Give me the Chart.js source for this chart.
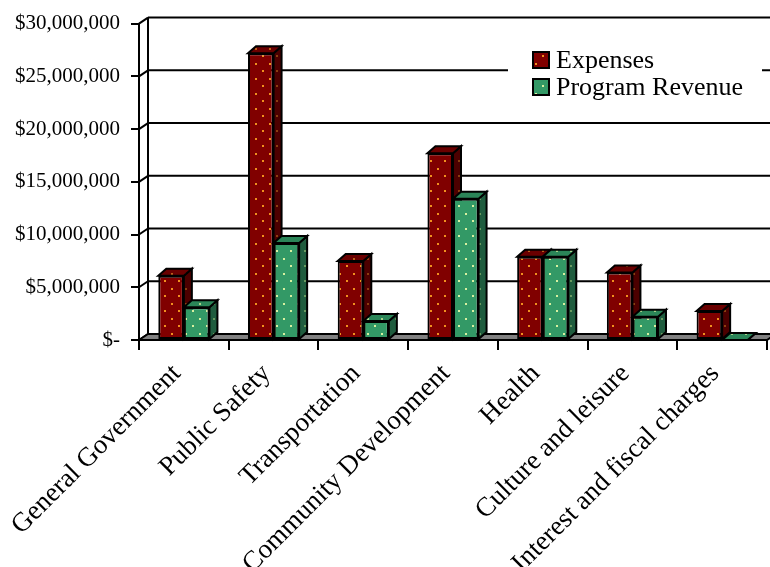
<!DOCTYPE html>
<html>
<head>
<meta charset="utf-8">
<script src="https://cdn.jsdelivr.net/npm/chart.js@4.4.1/dist/chart.umd.min.js"></script>
<style>
  html, body { margin: 0; padding: 0; background: #fff; }
  canvas { display: block; }
</style>
</head>
<body>
<canvas id="myChart" width="770" height="567"></canvas>
<script>
var categories = [
  "General Government",
  "Public Safety",
  "Transportation",
  "Community Development",
  "Health",
  "Culture and leisure",
  "Interest and fiscal charges",
];
var expenses = [6100000, 27200000, 7500000, 17700000, 7900000, 6400000, 2750000];
var programRevenue = [3100000, 9200000, 1800000, 13400000, 7900000, 2200000, 0];
var yTickLabels = [
  "$-",
  "$5,000,000",
  "$10,000,000",
  "$15,000,000",
  "$20,000,000",
  "$25,000,000",
  "$30,000,000",
];

// oblique depth of the bars and of the walls
var barDX = 8, barDY = 7;
var wallDX = 9, wallDY = 6;

function dotPattern(bg, dot) {
  var c = document.createElement("canvas");
  c.width = 14;
  c.height = 15;
  var x = c.getContext("2d");
  x.fillStyle = bg;
  x.fillRect(0, 0, 14, 15);
  x.fillStyle = dot;
  x.fillRect(3, 3, 2, 2);
  x.fillRect(10, 10, 2, 2);
  return x.createPattern(c, "repeat");
}

var redFront = dotPattern("#800000", "#f0901e");
var redTop = dotPattern("#6a0000", "#b8601a");
var redSide = dotPattern("#4c0000", "#8a4010");
var greenFront = dotPattern("#339966", "#d8f0a0");
var greenTop = dotPattern("#2b8558", "#a8d088");
var greenSide = dotPattern("#1f5c3e", "#6a9a60");

var threeD = {
  id: "threeD",
  beforeDatasetsDraw: function (chart) {
    var ctx = chart.ctx;
    var area = chart.chartArea;
    var y = chart.scales.y;
    ctx.save();
    ctx.lineWidth = 2;
    ctx.strokeStyle = "#000";

    // back wall gridlines and left wall diagonals
    y.ticks.forEach(function (t) {
      var py = y.getPixelForValue(t.value);
      ctx.beginPath();
      ctx.moveTo(area.left + wallDX, py - wallDY);
      ctx.lineTo(chart.width + 10, py - wallDY);
      ctx.stroke();
      ctx.beginPath();
      ctx.moveTo(area.left, py);
      ctx.lineTo(area.left + wallDX, py - wallDY);
      ctx.stroke();
    });
    ctx.beginPath();
    ctx.moveTo(area.left + wallDX, area.top - wallDY);
    ctx.lineTo(area.left + wallDX, area.bottom - wallDY);
    ctx.stroke();

    // floor
    ctx.fillStyle = "#808080";
    ctx.beginPath();
    ctx.moveTo(area.left, area.bottom);
    ctx.lineTo(area.left + wallDX, area.bottom - wallDY);
    ctx.lineTo(area.right + wallDX, area.bottom - wallDY);
    ctx.lineTo(area.right, area.bottom);
    ctx.closePath();
    ctx.fill();
    ctx.stroke();

    // side and top faces of the bars, the library draws the fronts after
    chart.data.datasets.forEach(function (ds, i) {
      var meta = chart.getDatasetMeta(i);
      meta.data.forEach(function (bar) {
        var p = bar.getProps(["x", "y", "base", "width"], true);
        var l = p.x - p.width / 2;
        var r = p.x + p.width / 2;
        ctx.fillStyle = ds.sideColor;
        ctx.beginPath();
        ctx.moveTo(r, p.y);
        ctx.lineTo(r + barDX, p.y - barDY);
        ctx.lineTo(r + barDX, p.base - barDY);
        ctx.lineTo(r, p.base);
        ctx.closePath();
        ctx.fill();
        ctx.stroke();

        ctx.fillStyle = ds.topColor;
        ctx.beginPath();
        ctx.moveTo(l, p.y);
        ctx.lineTo(l + barDX, p.y - barDY);
        ctx.lineTo(r + barDX, p.y - barDY);
        ctx.lineTo(r, p.y);
        ctx.closePath();
        ctx.fill();
        ctx.stroke();
      });
    });
    ctx.restore();
  },
};

var legendBox = {
  id: "legendBox",
  afterDatasetsDraw: function (chart) {
    var ctx = chart.ctx;
    ctx.save();
    ctx.fillStyle = "#fff";
    ctx.fillRect(508, 42, 254, 62);
    ctx.font = "26px 'Liberation Serif'";
    ctx.textBaseline = "middle";
    ctx.lineWidth = 2;
    ctx.strokeStyle = "#000";
    chart.data.datasets.forEach(function (ds, i) {
      var top = 52 + i * 27;
      ctx.fillStyle = ds.backgroundColor;
      ctx.fillRect(533, top, 16, 16);
      ctx.strokeRect(533, top, 16, 16);
      ctx.fillStyle = "#000";
      ctx.fillText(ds.label, 556, top + 9);
    });
    ctx.restore();
  },
};

Chart.defaults.font.family = "'Liberation Serif', 'Times New Roman', serif";
Chart.defaults.color = "#000";

new Chart("myChart", {
  type: "bar",
  data: {
    labels: categories,
    datasets: [
      {
        label: "Expenses",
        data: expenses,
        backgroundColor: redFront,
        sideColor: redSide,
        topColor: redTop,
        borderColor: "#000",
        borderWidth: 2,
        borderSkipped: false,
      },
      {
        label: "Program Revenue",
        data: programRevenue,
        backgroundColor: greenFront,
        sideColor: greenSide,
        topColor: greenTop,
        borderColor: "#000",
        borderWidth: 2,
        borderSkipped: false,
      },
    ],
  },
  options: {
    responsive: false,
    animation: false,
    devicePixelRatio: 1,
    layout: {
      autoPadding: false,
      padding: { top: 17, right: 3, left: 0, bottom: 0 },
    },
    datasets: { bar: { barPercentage: 1, categoryPercentage: 0.57 } },
    plugins: {
      legend: { display: false },
      tooltip: { enabled: false },
    },
    scales: {
      x: {
        offset: true,
        grid: {
          offset: true,
          drawOnChartArea: false,
          tickLength: 10,
          color: "#000",
          lineWidth: 2,
        },
        border: { color: "#000", width: 2 },
        ticks: {
          autoSkip: false,
          maxRotation: 45,
          minRotation: 45,
          padding: 8,
          labelOffset: -7,
          font: { size: 27 },
        },
        afterFit: function (scale) {
          scale.height = 227;
        },
      },
      y: {
        min: 0,
        max: 30000000,
        grid: {
          drawOnChartArea: false,
          tickLength: 8,
          color: "#000",
          lineWidth: 2,
        },
        border: { color: "#000", width: 2 },
        ticks: {
          stepSize: 5000000,
          padding: 11,
          font: { size: 21 },
          callback: function (value, index) {
            return yTickLabels[index];
          },
        },
        afterFit: function (scale) {
          scale.width = 139;
        },
      },
    },
  },
  plugins: [threeD, legendBox],
});
</script>
</body>
</html>
